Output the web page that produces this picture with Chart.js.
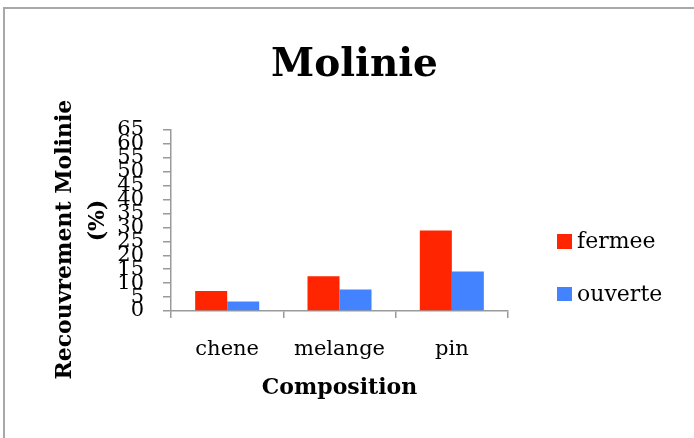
<!DOCTYPE html>
<html>
<head>
<meta charset="utf-8">
<script src="https://cdn.jsdelivr.net/npm/chart.js@4/dist/chart.umd.min.js"></script>
<style>
    html, body { margin: 0; padding: 0; background: #fff; overflow: hidden; }
    #wrap { position: relative; width: 694px; height: 438px; }
    #frame {
        position: absolute; left: 3px; top: 7px; width: 760px; height: 520px;
        border: 2px solid #a8a8a8; box-sizing: border-box;
    }
    canvas { position: absolute; left: 0; top: 0; }
    #legend { position: absolute; left: 557px; top: 234px; font-family: "DejaVu Serif", serif; font-size: 22px; color: #000; }
    .legend-item { position: relative; height: 52.5px; }
    .legend-box { position: absolute; left: 0; top: 0; width: 14.5px; height: 14.5px; }
    .legend-text { position: absolute; left: 20px; top: -5px; line-height: 24px; white-space: nowrap; }
</style>
</head>
<body>
<div id="wrap">
    <div id="frame"></div>
    <canvas id="molinieChart" width="694" height="438"></canvas>
    <div id="legend"></div>
</div>
<script>
// Data
const compositions = ['chene', 'melange', 'pin'];
const fermee = [7.2, 12.5, 28.9];
const ouverte = [3.4, 7.7, 14.2];
const seriesNames = ['fermee', 'ouverte'];
const seriesColors = ['rgb(255, 37, 0)', 'rgb(67, 131, 255)'];

const serif = '"DejaVu Serif", serif';
const axisGray = '#9a9a9a';

/**
 * Build the bar chart
 */
function createMolinieChart(chartId = 'molinieChart') {
    const chartCanvas = document.getElementById(chartId);
    if (!chartCanvas) return;

    const seriesData = [fermee, ouverte];

    return new Chart(chartCanvas, {
        type: 'bar',
        data: {
            labels: compositions,
            datasets: seriesNames.map((name, i) => ({
                label: name,
                data: seriesData[i],
                backgroundColor: seriesColors[i],
                categoryPercentage: 0.57,
                barPercentage: 1.0
            }))
        },
        options: {
            responsive: false,
            animation: false,
            layout: {
                padding: { left: 49.2, right: 34.2, top: 0, bottom: 36.1 }
            },
            plugins: {
                title: {
                    display: true,
                    text: 'Molinie',
                    color: '#000',
                    font: { family: serif, size: 39, weight: 'bold' },
                    padding: { top: 42.6, bottom: 40.6 }
                },
                // legend is drawn in HTML next to the canvas
                legend: { display: false },
                tooltip: { enabled: false }
            },
            scales: {
                x: {
                    grid: {
                        drawOnChartArea: false,
                        drawTicks: true,
                        tickLength: 7,
                        color: axisGray,
                        lineWidth: 1.5
                    },
                    border: { color: axisGray, width: 1.5 },
                    ticks: {
                        color: '#000',
                        padding: 19,
                        font: { family: serif, size: 21 }
                    },
                    title: {
                        display: true,
                        text: 'Composition',
                        color: '#000',
                        font: { family: serif, size: 22, weight: 'bold' },
                        padding: { top: -5.7, bottom: 0 }
                    }
                },
                y: {
                    min: 0,
                    max: 65,
                    grid: {
                        drawOnChartArea: false,
                        drawTicks: true,
                        tickLength: 8,
                        color: axisGray,
                        lineWidth: 1.5
                    },
                    border: { color: axisGray, width: 1.5 },
                    ticks: {
                        stepSize: 5,
                        autoSkip: false,
                        color: '#000',
                        padding: 19,
                        font: { family: serif, size: 21 }
                    },
                    title: {
                        display: true,
                        text: ['Recouvrement Molinie     ', '(%)'],
                        color: '#000',
                        font: { family: serif, size: 22, weight: 'bold', lineHeight: 1.5 },
                        padding: { top: 0, bottom: -16.9 }
                    }
                },
                // invisible axis that reserves the space used by the legend
                legendSpace: {
                    type: 'linear',
                    position: 'right',
                    grid: {
                        drawOnChartArea: false,
                        drawTicks: true,
                        tickLength: 151.8,
                        color: 'rgba(0,0,0,0)'
                    },
                    border: { display: false },
                    ticks: { display: false }
                }
            }
        }
    });
}

/**
 * Simple HTML legend built from the series names and colours
 */
function buildLegend(containerId = 'legend') {
    const container = document.getElementById(containerId);
    if (!container) return;
    seriesNames.forEach((name, i) => {
        const item = document.createElement('div');
        item.className = 'legend-item';
        const box = document.createElement('span');
        box.className = 'legend-box';
        box.style.background = seriesColors[i];
        const text = document.createElement('span');
        text.className = 'legend-text';
        text.textContent = name;
        item.appendChild(box);
        item.appendChild(text);
        container.appendChild(item);
    });
}

createMolinieChart();
buildLegend();
</script>
</body>
</html>
